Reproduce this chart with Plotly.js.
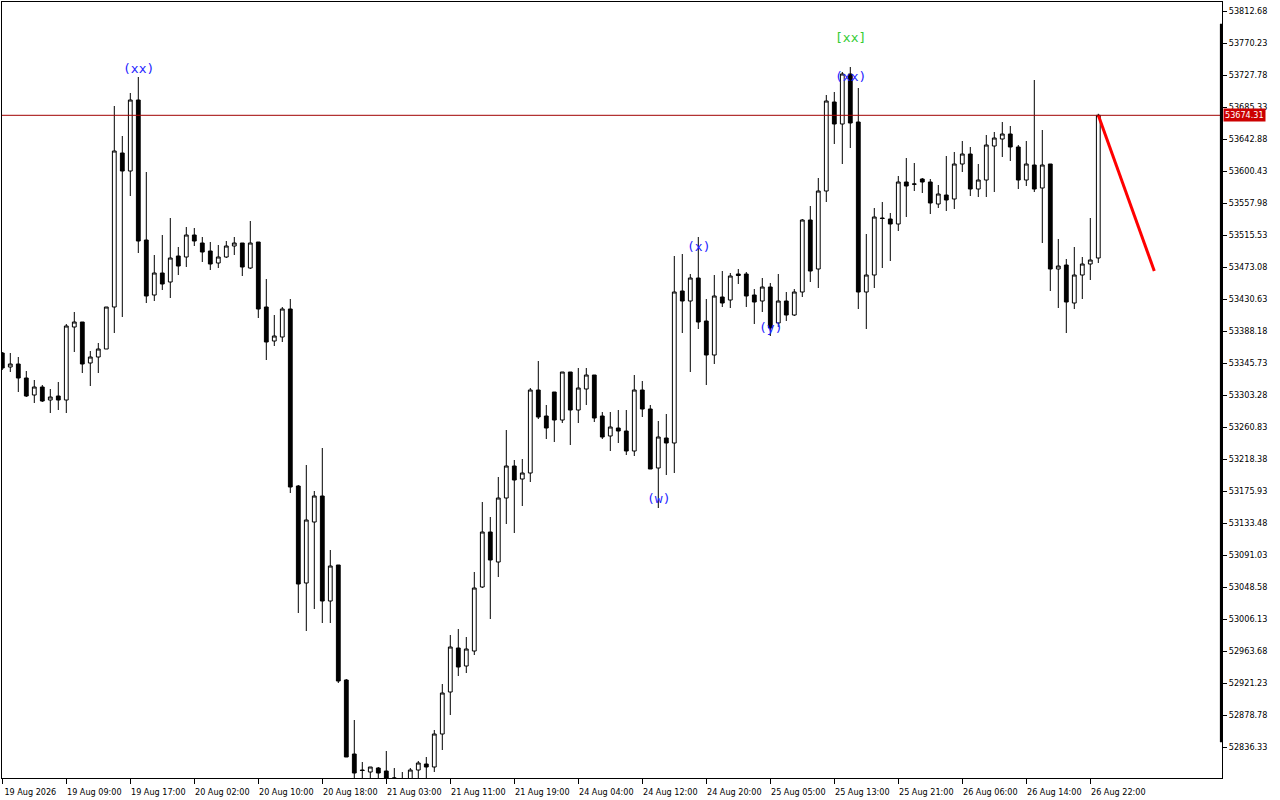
<!DOCTYPE html>
<html>
<head>
<meta charset="utf-8">
<script src="https://cdn.plot.ly/plotly-3.0.1.min.js"></script>
<style>
  html, body { margin: 0; padding: 0; background: #ffffff; }
  #chart { width: 1280px; height: 800px; }
</style>
</head>
<body>
<div id="chart"></div>
<script>
// ---- data (H1 bars) ----
const barOpen = [
53358.99, 53340.42, 53344.40, 53325.83, 53303.28, 53313.89, 53296.65, 53301.95, 53296.65, 53393.48,
53400.12, 53345.73, 53353.69, 53364.30, 53420.01, 53624.30, 53600.42, 53694.61, 53508.90, 53435.94,
53465.12, 53453.18, 53487.67, 53486.35, 53515.53, 53504.92, 53494.31, 53478.39, 53486.35, 53500.94,
53504.92, 53471.75, 53506.24, 53420.01, 53374.91, 53380.22, 53417.36, 53182.57, 53053.89, 53134.81,
53169.30, 53030.00, 53077.76, 52925.21, 52827.05, 52805.82, 52803.17, 52808.47, 52804.49, 52794.55,
52792.56, 52793.88, 52805.82, 52813.78, 52809.80, 52853.58, 52909.29, 52967.66, 52943.78, 52963.68,
53048.58, 53121.54, 53081.74, 53166.65, 53209.10, 53191.85, 53199.81, 53309.91, 53275.43, 53307.26,
53270.12, 53333.79, 53283.38, 53311.24, 53329.81, 53275.43, 53248.89, 53259.51, 53255.53, 53229.00,
53309.91, 53284.71, 53206.44, 53246.24, 53239.61, 53441.24, 53427.97, 53458.49, 53401.44, 53356.34,
53433.28, 53429.30, 53463.79, 53463.79, 53435.94, 53427.97, 53446.55, 53398.79, 53427.97, 53409.40,
53439.92, 53535.43, 53470.43, 53573.89, 53691.96, 53662.77, 53729.10, 53665.43, 53439.92, 53462.47,
53538.08, 53536.76, 53530.12, 53585.83, 53583.18, 53589.81, 53585.83, 53556.65, 53568.59, 53563.28,
53609.71, 53622.98, 53576.55, 53588.49, 53633.59, 53642.87, 53649.51, 53632.26, 53588.49, 53608.38,
53577.87, 53609.71, 53470.43, 53475.73, 53425.32, 53462.47, 53477.06, 53485.02
];
const barHigh = [
53360.32, 53358.99, 53353.69, 53335.11, 53323.18, 53316.54, 53311.24, 53320.52, 53397.46, 53413.38,
53400.12, 53361.65, 53372.26, 53420.01, 53686.65, 53646.85, 53703.90, 53725.12, 53599.10, 53489.00,
53515.53, 53538.08, 53499.61, 53526.14, 53524.82, 53512.88, 53506.24, 53502.26, 53507.57, 53512.88,
53504.92, 53534.10, 53506.24, 53457.16, 53409.40, 53420.01, 53430.63, 53183.89, 53210.42, 53175.93,
53232.98, 53097.66, 53077.76, 52926.54, 52872.15, 52816.43, 52809.80, 52809.80, 52831.03, 52808.47,
52803.17, 52808.47, 52817.76, 52823.07, 52858.88, 52919.90, 52984.90, 52992.86, 52982.25, 53068.48,
53161.34, 53141.44, 53194.50, 53256.85, 53217.06, 53218.38, 53312.56, 53348.38, 53290.02, 53307.26,
53333.79, 53333.79, 53339.09, 53339.09, 53329.81, 53280.73, 53280.73, 53283.38, 53283.38, 53329.81,
53321.85, 53290.02, 53268.79, 53278.08, 53487.67, 53490.33, 53463.79, 53512.88, 53430.63, 53462.47,
53467.77, 53465.12, 53470.43, 53466.45, 53443.90, 53458.49, 53451.86, 53463.79, 53439.92, 53443.90,
53536.76, 53554.00, 53591.14, 53701.25, 53705.23, 53731.76, 53738.39, 53710.53, 53516.86, 53551.35,
53559.31, 53544.71, 53593.79, 53617.67, 53611.04, 53591.14, 53589.81, 53581.85, 53620.32, 53625.63,
53640.22, 53632.26, 53609.71, 53648.18, 53652.16, 53665.43, 53660.12, 53634.91, 53640.22, 53721.15,
53654.81, 53609.71, 53510.22, 53483.69, 53499.61, 53486.35, 53538.08, 53676.30
];
const barLow = [
53336.44, 53333.79, 53307.26, 53300.62, 53292.67, 53294.00, 53279.40, 53283.38, 53279.40, 53360.32,
53332.46, 53315.22, 53332.46, 53364.30, 53385.52, 53406.75, 53567.26, 53491.65, 53425.32, 53427.97,
53442.57, 53431.96, 53462.47, 53473.08, 53500.94, 53479.71, 53469.10, 53471.75, 53485.02, 53489.00,
53461.14, 53470.43, 53405.42, 53349.71, 53368.28, 53373.58, 53173.28, 53014.08, 52990.21, 53019.39,
53000.82, 53000.82, 52921.23, 52823.07, 52793.88, 52793.88, 52793.88, 52793.88, 52792.56, 52792.56,
52789.90, 52791.23, 52793.88, 52795.21, 52803.17, 52832.35, 52878.78, 52930.51, 52934.49, 52958.37,
53047.25, 53006.13, 53061.84, 53132.15, 53120.21, 53156.03, 53187.87, 53271.45, 53244.91, 53240.93,
53266.14, 53236.95, 53266.14, 53290.02, 53267.47, 53244.91, 53229.00, 53239.61, 53223.69, 53222.36,
53274.10, 53205.12, 53153.38, 53197.16, 53199.81, 53385.52, 53333.79, 53390.83, 53316.54, 53344.40,
53420.01, 53418.69, 53450.53, 53420.01, 53397.46, 53413.38, 53381.54, 53393.48, 53401.44, 53408.08,
53433.28, 53453.18, 53445.22, 53559.31, 53636.24, 53609.71, 53630.94, 53417.36, 53390.83, 53445.22,
53471.75, 53481.04, 53520.84, 53539.41, 53573.89, 53571.24, 53543.39, 53551.35, 53547.37, 53550.02,
53599.10, 53567.26, 53565.93, 53565.93, 53572.57, 53619.00, 53613.69, 53576.55, 53580.53, 53572.57,
53504.92, 53441.24, 53418.69, 53385.52, 53417.36, 53430.63, 53455.84, 53478.39
];
const barClose = [
53339.09, 53344.40, 53325.83, 53301.95, 53313.89, 53295.32, 53300.62, 53296.65, 53394.81, 53400.12,
53344.40, 53353.69, 53364.30, 53420.01, 53626.96, 53600.42, 53694.61, 53507.57, 53434.61, 53465.12,
53450.53, 53485.02, 53474.41, 53515.53, 53507.57, 53492.98, 53477.06, 53486.35, 53500.94, 53504.92,
53473.08, 53504.92, 53417.36, 53373.58, 53381.54, 53417.36, 53181.24, 53052.56, 53137.46, 53169.30,
53030.00, 53076.44, 52923.88, 52823.07, 52801.84, 52805.16, 52809.80, 52801.84, 52795.21, 52795.21,
52793.88, 52805.82, 52815.11, 52809.80, 52853.58, 52907.96, 52968.98, 52942.45, 52966.33, 53047.25,
53121.54, 53084.40, 53166.65, 53209.10, 53190.53, 53199.81, 53309.91, 53274.10, 53259.51, 53270.12,
53333.79, 53283.38, 53312.56, 53329.81, 53272.77, 53247.57, 53260.83, 53255.53, 53229.00, 53309.91,
53284.71, 53205.12, 53247.57, 53239.61, 53439.92, 53427.97, 53458.49, 53400.12, 53356.34, 53434.61,
53425.32, 53461.14, 53461.80, 53434.61, 53426.65, 53446.55, 53392.16, 53427.97, 53409.40, 53439.92,
53535.43, 53467.77, 53573.89, 53693.28, 53662.77, 53729.10, 53664.10, 53439.92, 53462.47, 53539.41,
53537.42, 53530.12, 53585.83, 53580.53, 53583.00, 53585.83, 53557.98, 53569.91, 53561.96, 53609.71,
53622.98, 53576.55, 53588.49, 53634.91, 53644.20, 53649.51, 53632.26, 53588.49, 53609.71, 53576.55,
53608.38, 53470.43, 53474.41, 53426.65, 53462.47, 53477.06, 53482.37, 53674.31
];

// time axis labels (one every 8 bars)
const timeTickBars = [0, 8, 16, 24, 32, 40, 48, 56, 64, 72, 80, 88, 96, 104, 112, 120, 128, 136];
const timeTickText = ['19 Aug 2026', '19 Aug 09:00', '19 Aug 17:00', '20 Aug 02:00', '20 Aug 10:00',
  '20 Aug 18:00', '21 Aug 03:00', '21 Aug 11:00', '21 Aug 19:00', '24 Aug 04:00', '24 Aug 12:00',
  '24 Aug 20:00', '25 Aug 05:00', '25 Aug 13:00', '25 Aug 21:00', '26 Aug 06:00', '26 Aug 14:00',
  '26 Aug 22:00'];

// price axis labels
const priceTickText = ['52836.33', '52878.78', '52921.23', '52963.68', '53006.13', '53048.58',
  '53091.03', '53133.48', '53175.93', '53218.38', '53260.83', '53303.28', '53345.73', '53388.18',
  '53430.63', '53473.08', '53515.53', '53557.98', '53600.43', '53642.88', '53685.33', '53727.78',
  '53770.23', '53812.68'];

// current price
const currentPrice = 53674.31;

// forecast line (bar index, price)
const forecastBar = [137, 144];
const forecastPrice = [53674.31, 53467.80];

// wave labels
const waveText = ['(xx)', '(w)', '(x)', '(y)', '(xx)', '[xx]'];
const waveBar = [17, 82, 87, 96, 106, 106];
const wavePrice = [53737.06, 53166.65, 53500.94, 53393.48, 53726.45, 53778.19];
const waveLevel = ['minor', 'minor', 'minor', 'minor', 'minor', 'major'];

// ---- build chart ----
const barIndex = barOpen.map((_, i) => i);

const candles = {
  type: 'candlestick',
  x: barIndex,
  open: barOpen,
  high: barHigh,
  low: barLow,
  close: barClose,
  increasing: { line: { color: '#000000', width: 1 }, fillcolor: '#ffffff' },
  decreasing: { line: { color: '#000000', width: 1 }, fillcolor: '#000000' },
  whiskerwidth: 0,
  hoverinfo: 'skip',
  showlegend: false
};

const forecast = {
  type: 'scatter',
  mode: 'lines',
  x: forecastBar,
  y: forecastPrice,
  line: { color: '#ff0000', width: 3 },
  hoverinfo: 'skip',
  showlegend: false
};

const labelFont = { family: "'DejaVu Sans Condensed', 'Liberation Sans', sans-serif", size: 9, color: '#000000' };

const annotations = waveText.map((t, k) => ({
  x: waveBar[k],
  y: wavePrice[k],
  xref: 'x',
  yref: 'y',
  text: t,
  showarrow: false,
  xanchor: 'center',
  yanchor: 'middle',
  font: {
    family: "'DejaVu Sans Mono', 'Liberation Mono', monospace",
    size: 13,
    color: waveLevel[k] === 'major' ? '#33cc33' : '#1e1eff'
  }
}));

annotations.push({
  x: 1,
  xref: 'paper',
  xanchor: 'left',
  xshift: 1,
  y: currentPrice,
  yref: 'y',
  yanchor: 'middle',
  text: currentPrice.toFixed(2),
  showarrow: false,
  bgcolor: '#cc0000',
  borderpad: 1,
  font: { family: labelFont.family, size: 9, color: '#ffffff' }
});

const layout = {
  width: 1280,
  height: 800,
  margin: { l: 2, r: 58, t: 2, b: 22, pad: 0 },
  paper_bgcolor: '#ffffff',
  plot_bgcolor: '#ffffff',
  showlegend: false,
  hovermode: false,
  dragmode: false,
  boxgap: 0.32,
  xaxis: {
    type: 'linear',
    range: [-0.0375, 152.4625],
    showgrid: false,
    zeroline: false,
    showline: true,
    mirror: true,
    linecolor: '#000000',
    linewidth: 1,
    ticks: 'outside',
    ticklen: 5,
    tickwidth: 1,
    tickcolor: '#000000',
    tickmode: 'array',
    tickvals: timeTickBars,
    ticktext: timeTickText,
    ticklabelshift: 28,
    ticklabelstandoff: 0,
    tickfont: labelFont,
    rangeslider: { visible: false },
    fixedrange: true
  },
  yaxis: {
    side: 'right',
    range: [52795.21, 53824.62],
    showgrid: false,
    zeroline: false,
    showline: true,
    mirror: true,
    linecolor: '#000000',
    linewidth: 1,
    ticks: 'outside',
    ticklen: 4,
    tickwidth: 1,
    tickcolor: '#000000',
    tickmode: 'array',
    tickvals: priceTickText.map(Number),
    ticktext: priceTickText,
    tickfont: labelFont,
    fixedrange: true
  },
  shapes: [
    {
      type: 'line', xref: 'paper', x0: 0, x1: 1, yref: 'y',
      y0: currentPrice, y1: currentPrice,
      line: { color: '#a00000', width: 1 }, layer: 'above'
    },
    {
      type: 'line', xref: 'paper', x0: 0.9995, x1: 0.9995, yref: 'paper',
      y0: 0.046, y1: 0.972,
      line: { color: '#000000', width: 3 }, layer: 'above'
    }
  ],
  annotations: annotations
};

Plotly.newPlot('chart', [candles, forecast], layout, { displayModeBar: false, staticPlot: true });
</script>
</body>
</html>
